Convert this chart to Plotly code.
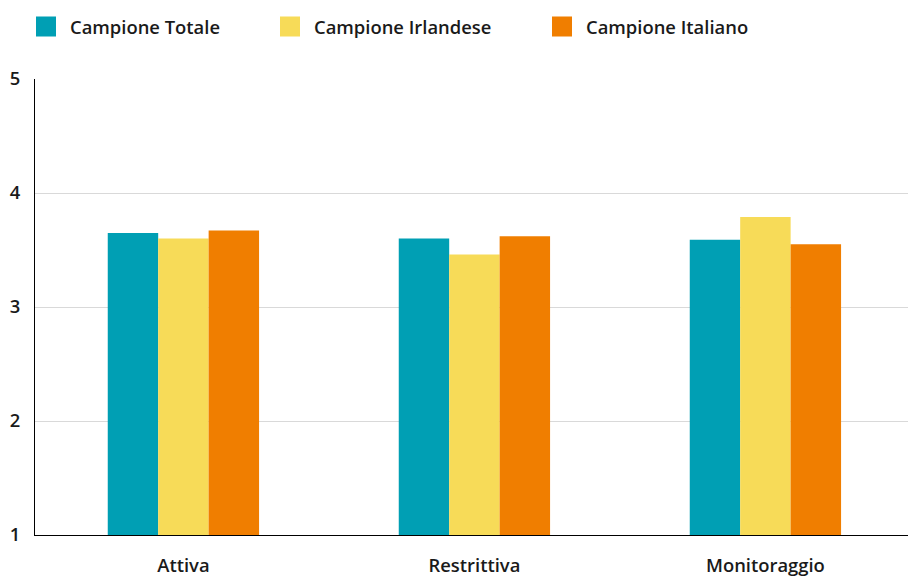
import plotly.graph_objects as go

categories = ["Attiva", "Restrittiva", "Monitoraggio"]
series_names = ["Campione Totale", "Campione Irlandese", "Campione Italiano"]
totale = [3.65, 3.60, 3.59]
irlandese = [3.60, 3.46, 3.79]
italiano = [3.67, 3.62, 3.55]
colors = ["#009fb4", "#f7db58", "#f07e00"]
y_ticks = [1, 2, 3, 4, 5]
legend_x_px = [22, 266, 538]

fig = go.Figure()
legend_ids = ["legend", "legend2", "legend3"]
for name, vals, col, lid in zip(series_names, [totale, irlandese, italiano], colors, legend_ids):
    fig.add_trace(go.Bar(x=categories, y=vals, name=name, marker_color=col,
                         marker_line_width=0, showlegend=False))
    fig.add_trace(go.Scatter(x=[None], y=[None], mode="markers", name=name, legend=lid,
                             marker=dict(symbol="square", size=16, color=col,
                                         line=dict(width=4, color=col))))

font = dict(family="Open Sans", size=18.4, color="#1a1a1a", weight=600)
lfont = dict(family="Open Sans", size=18.4, color="#1a1a1a", weight=600)
L, R = 35, 908
legends = {}
for lid, px in zip(legend_ids, legend_x_px):
    legends[lid] = dict(x=(px - L) / (R - L), xanchor="left", y=1 - 8 / 577, yref="container",
                        yanchor="top", font=lfont, itemwidth=38,
                        bgcolor="rgba(0,0,0,0)")
fig.update_layout(
    width=908, height=577,
    margin=dict(l=L, r=908 - R, t=79, b=42, autoexpand=False),
    plot_bgcolor="white", paper_bgcolor="white",
    barmode="group", bargap=0.48, bargroupgap=0,
    font=font,
    xaxis=dict(showline=True, linecolor="#000", linewidth=1, ticks="",
               range=[-0.51, 2.49],
               ticklabelstandoff=14, tickfont=font, showgrid=False, automargin=False),
    yaxis=dict(range=[1, 5], tickvals=y_ticks, showline=True, linecolor="#000",
               linewidth=1, showgrid=True, gridcolor="#d9d9d9", gridwidth=1,
               ticks="", ticklabelstandoff=10, tickfont=font, zeroline=False,
               automargin=False),
    **legends,
)
fig.write_html("out.html", config={"displayModeBar": False},
               post_script="document.body.style.margin='0';")
